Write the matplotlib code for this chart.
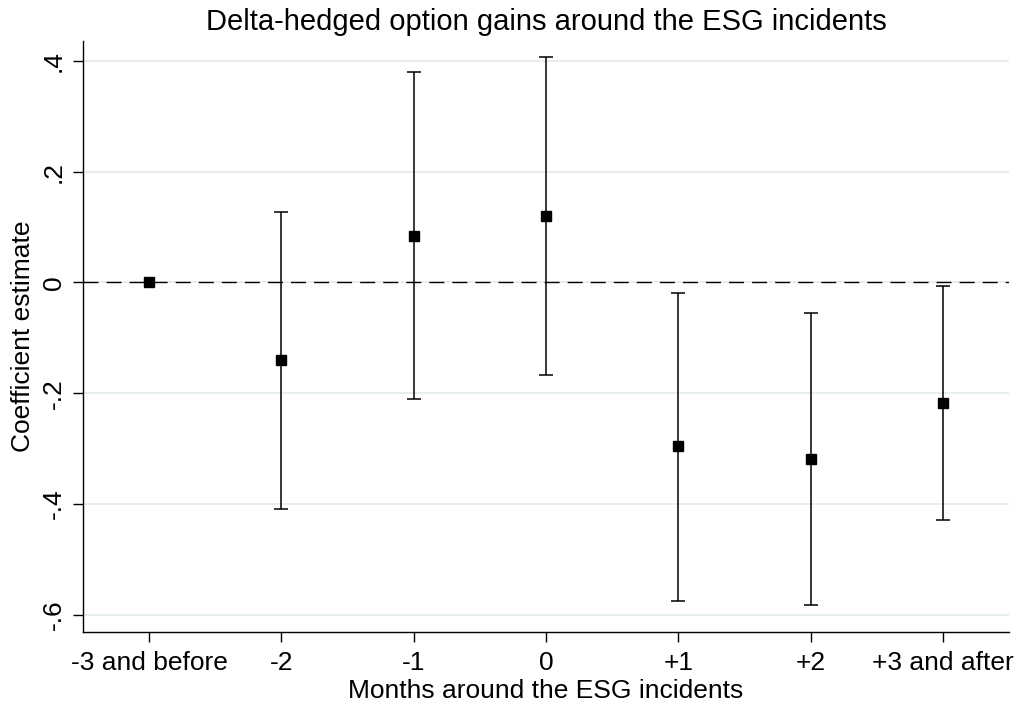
import matplotlib
matplotlib.use("Agg")
import matplotlib.pyplot as plt
import numpy as np

categories = ["-3 and before", "-2", "-1", "0", "+1", "+2", "+3 and after"]
coef = [0.0, -0.140, 0.084, 0.120, -0.296, -0.318, -0.218]
ci_low = [0.0, -0.409, -0.210, -0.167, -0.575, -0.582, -0.428]
ci_high = [0.0, 0.127, 0.380, 0.407, -0.019, -0.055, -0.006]
yticks = [-0.6, -0.4, -0.2, 0.0, 0.2, 0.4]
ytick_labels = ["-.6", "-.4", "-.2", "0", ".2", ".4"]

plt.rcParams['font.family'] = ['Liberation Sans', 'DejaVu Sans']

fig = plt.figure(figsize=(10.19, 7.04), dpi=100)
ax = fig.add_axes([83/1019, 1-632/704, (1009-83)/1019, (632-41)/704])

x = np.arange(len(categories))
coef = np.array(coef)
lo = np.array(ci_low)
hi = np.array(ci_high)

for yt in yticks:
    ax.axhline(yt, color="#e6eef2", lw=1.4, zorder=0)
ax.axhline(0, color="black", lw=1.0, linestyle=(0, (10.8, 5.8)), zorder=1)

mask = x > 0
ax.errorbar(x[mask], coef[mask], yerr=[coef[mask]-lo[mask], hi[mask]-coef[mask]],
            fmt="none", ecolor="black", elinewidth=1.1, capsize=5.0, capthick=1.1, zorder=2)
ax.plot(x, coef, linestyle="none", marker="s", markersize=7.8, color="black", zorder=3)

ax.set_xlim(-0.5, 6.5)
ax.set_ylim(-0.631, 0.436)
ax.set_xticks(x)
ax.set_xticklabels(categories, fontsize=19)
ax.set_yticks(yticks)
ax.set_yticklabels(ytick_labels, fontsize=19, rotation=90, va="center")
ax.tick_params(axis="both", direction="out", length=7.5, width=1.0, color="black")
ax.tick_params(axis="x", pad=6)
ax.tick_params(axis="y", pad=5)

for s in ["top", "right"]:
    ax.spines[s].set_visible(False)
for s in ["left", "bottom"]:
    ax.spines[s].set_linewidth(1.0)

ax.set_xlabel("Months around the ESG incidents", fontsize=19, labelpad=3)
ax.set_ylabel("Coefficient estimate", fontsize=19, labelpad=5)
ax.set_title("Delta-hedged option gains around the ESG incidents", fontsize=21, pad=8)

fig.savefig("out.png", dpi=100, facecolor="white")
